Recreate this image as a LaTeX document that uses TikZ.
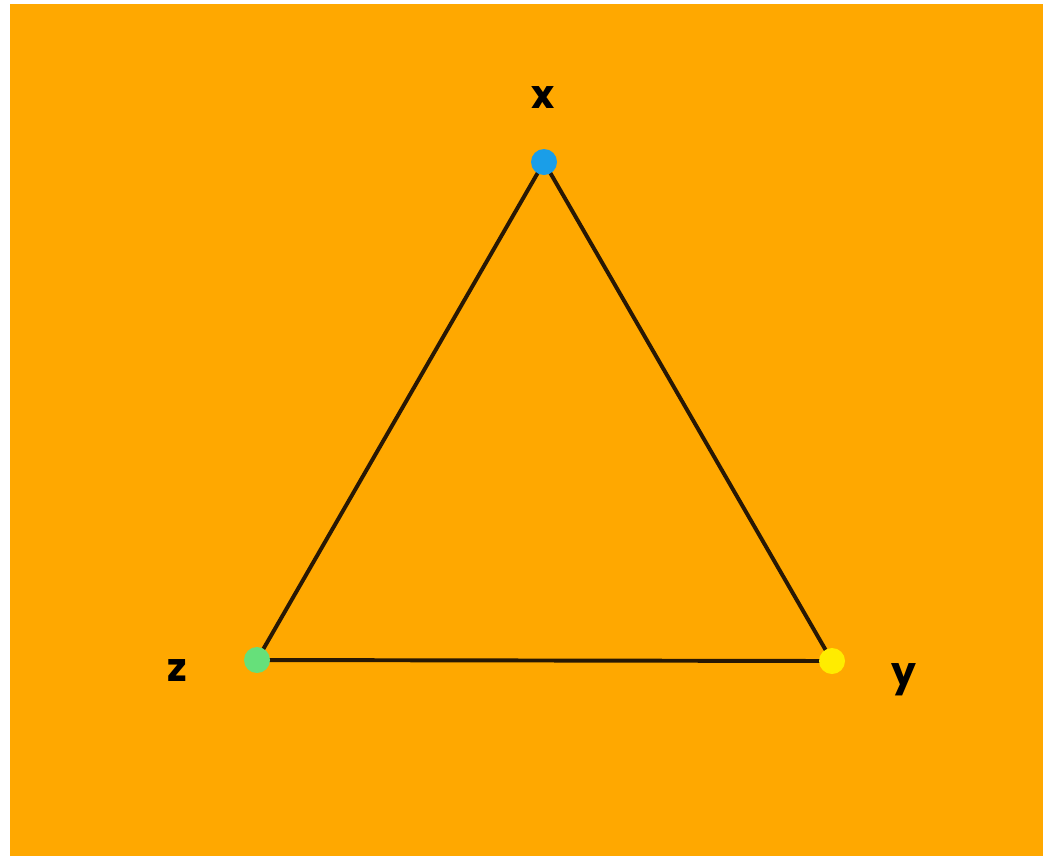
\documentclass[tikz,border=0pt]{standalone}
\usepackage{fontspec}
\setmainfont{Poppins}
\definecolor{bgorange}{RGB}{255,168,0}
\definecolor{dotblue}{RGB}{26,158,232}
\definecolor{dotgreen}{RGB}{102,224,122}
\definecolor{dotyellow}{RGB}{255,236,0}
\definecolor{edgeblack}{RGB}{40,24,4}
\tikzset{vertex/.style={circle,inner sep=0pt,minimum size=0.65cm}}
\begin{document}
\begin{tikzpicture}[x=0.025cm,y=-0.025cm]
  \useasboundingbox (0,0) rectangle (1043,856);
  \fill[white] (0,0) rectangle (1043,856);
  \fill[bgorange] (10,4) rectangle (1043,856);
  
  \node [vertex] (x) at (544,162) {};
  \node [vertex] (y) at (832,661) {};
  \node [vertex] (z) at (257,660) {};
  \draw[line width=2.8pt,edgeblack] (x.center)--(z.center)--(y.center)--cycle;
  \node [vertex,fill=dotblue] at (x) {};
  \node [vertex,fill=dotyellow] at (y) {};
  \node [vertex,fill=dotgreen] at (z) {};
  
  \node[font=\fontsize{28}{30}\selectfont\bfseries] (xlab) at (543,98) {x};
  \node[font=\fontsize{28}{30}\selectfont\bfseries] (zlab) at (177,671) {z};
  \node[font=\fontsize{28}{30}\selectfont\bfseries] (ylab) at (904,680) {y};
  
\end{tikzpicture}
\end{document}
